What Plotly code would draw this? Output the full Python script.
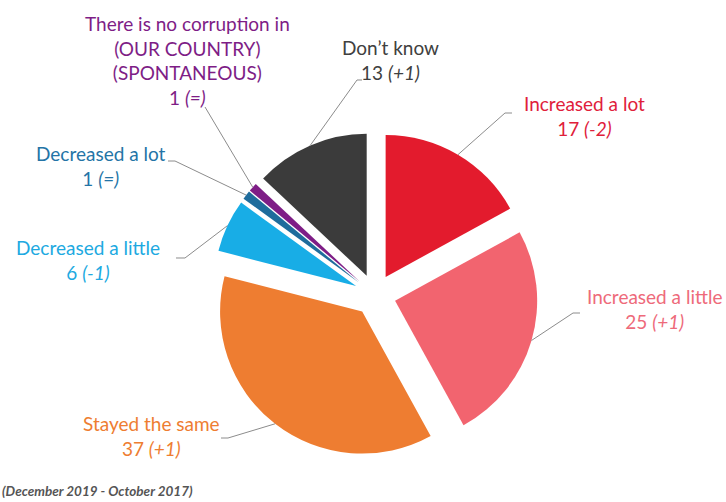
import math
import plotly.graph_objects as go

# ---- data ----
labels = ["Increased a lot", "Increased a little", "Stayed the same", "Decreased a little",
          "Decreased a lot", "There is no corruption in (OUR COUNTRY) (SPONTANEOUS)", "Don’t know"]
values = [17, 25, 37, 6, 1, 1, 13]
changes = ["-2", "+1", "+1", "-1", "=", "=", "+1"]
label_lines = [["Increased a lot"], ["Increased a little"], ["Stayed the same"], ["Decreased a little"],
               ["Decreased a lot"], ["There is no corruption in", "(OUR COUNTRY)", "(SPONTANEOUS)"],
               ["Don’t know"]]
footnote = "(December 2019 - October 2017)"

# ---- styles ----
slice_colors = ["#e31b2d", "#f2646f", "#ee7d31", "#18ade6", "#1f6c9c", "#7e1d86", "#3b3b3b"]
text_colors = ["#e0203a", "#ee6a7a", "#ee7d31", "#20a9e1", "#2474a6", "#7e1d86", "#404040"]

W, H = 726, 502
CX, CY, HALF = 375, 295, 163
PULL = 0.147
FONT = "Lato"

# label layout (pixels)
label_x = [584, 654, 151, 88, 101, 187, 391]
label_y = [115.5, 309, 436, 260, 166, 60, 59.5]
elbows = [(505, 113), (573, 313), (228, 438), (185, 258), (175, 161), (205, 107), (357, 80)]
tails = [(512, 113), (580, 313), (221, 438), (176, 258), (168, 161), None, (362, 80)]


def px(x):
    return x / W


def py(y):
    return 1 - y / H


fig = go.Figure()
fig.add_trace(go.Pie(
    labels=labels, values=values, sort=False, direction="clockwise", rotation=0,
    pull=[PULL] * len(values),
    marker=dict(colors=slice_colors, line=dict(width=0)),
    textinfo="none", hoverinfo="skip", showlegend=False,
    domain=dict(x=[(CX - HALF) / W, (CX + HALF) / W],
                y=[(H - CY - HALF) / H, (H - CY + HALF) / H]),
))

annotations = []
shapes = []
total = sum(values)
cum = 0
for i, v in enumerate(values):
    mid = (cum + v / 2) / total * 2 * math.pi
    cum += v
    sx = CX + HALF * math.sin(mid)
    sy = CY - HALF * math.cos(mid)
    pts = [(sx, sy), elbows[i]]
    if tails[i] is not None:
        pts.append(tails[i])
    path = "M " + " L ".join(f"{px(a):.5f},{py(b):.5f}" for a, b in pts)
    shapes.append(dict(type="path", path=path, xref="paper", yref="paper",
                       line=dict(color="#8c8c8c", width=1)))
    text = "<br>".join(label_lines[i] + [f"{v} <i>({changes[i]})</i>"])
    annotations.append(dict(text=text, x=px(label_x[i]), y=py(label_y[i]), xref="paper", yref="paper",
                            xanchor="center", yanchor="middle", align="center", showarrow=False,
                            font=dict(family=FONT, size=19, color=text_colors[i])))

annotations.append(dict(text=f"<b><i>{footnote}</i></b>", x=0, y=py(491), xref="paper", yref="paper",
                        xanchor="left", yanchor="middle", showarrow=False,
                        font=dict(family=FONT, size=13.5, color="#555555")))

fig.update_layout(width=W, height=H, margin=dict(l=0, r=0, t=0, b=0),
                  paper_bgcolor="white", plot_bgcolor="white",
                  annotations=annotations, shapes=shapes)

fig.write_html("out.html", config={"displayModeBar": False},
               post_script="document.body.style.margin='0px';document.body.style.overflow='hidden';")
